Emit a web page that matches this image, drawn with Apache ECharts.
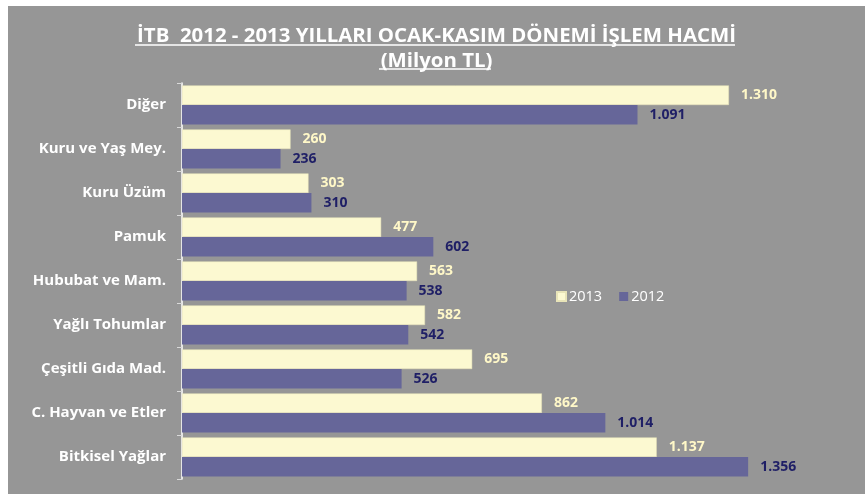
<!DOCTYPE html>
<html><head><meta charset="utf-8">
<script src="https://cdn.jsdelivr.net/npm/echarts@6/dist/echarts.min.js"></script>
<style>
html,body{margin:0;padding:0;background:#fff;width:865px;height:494px;overflow:hidden}
#c{position:absolute;left:8px;top:6px;width:857px;height:488px;background:#969696}
</style></head><body><div id="c"></div>
<script>
const categories = ['Diğer','Kuru ve Yaş Mey.','Kuru Üzüm','Pamuk','Hububat ve Mam.','Yağlı Tohumlar','Çeşitli Gıda Mad.','C. Hayvan ve Etler','Bitkisel Yağlar'];
const values2013 = [1310,260,303,477,563,582,695,862,1137];
const values2012 = [1091,236,310,602,538,542,526,1014,1356];
const seriesNames = ['2013','2012'];
const titleLine1 = 'İTB  2012 - 2013 YILLARI OCAK-KASIM DÖNEMİ İŞLEM HACMİ';
const titleLine2 = '(Milyon TL)';

const fmt = v => v.toLocaleString('de-DE');
const FONT = '"Open Sans",sans-serif';
const chart = echarts.init(document.getElementById('c'));
chart.setOption({
  backgroundColor:'#969696',
  animation:false,
  title:[
    {text:titleLine1,left:'center',top:15,textStyle:{color:'#fff',fontSize:20.4,fontWeight:'bold',fontFamily:FONT}},
    {text:titleLine2,left:'center',top:40,textStyle:{color:'#fff',fontSize:20.4,fontWeight:'bold',fontFamily:FONT}}
  ],
  graphic:[
    {type:'line',shape:{x1:127,y1:39,x2:727,y2:39},style:{stroke:'#fff',lineWidth:1.5}},
    {type:'line',shape:{x1:371,y1:63,x2:483,y2:63},style:{stroke:'#fff',lineWidth:1.5}}
  ],
  legend:{data:seriesNames,left:543,top:278,itemWidth:9,itemHeight:9,itemGap:17,icon:'rect',
    textStyle:{color:'#fff',fontSize:14.5,fontFamily:FONT,padding:[0,0,0,-2]}},
  grid:{left:174,right:15,top:77,bottom:15,containLabel:false},
  xAxis:{type:'value',min:0,max:1600,show:false},
  yAxis:{type:'category',data:categories,inverse:true,
    axisLine:{lineStyle:{color:'#fff',width:1.5}},
    axisTick:{show:true,length:5,lineStyle:{color:'#d9d9d9'}},
    axisLabel:{color:'#fff',fontSize:15,fontWeight:'bold',fontFamily:FONT,margin:16}},
  series:[
    {name:seriesNames[0],type:'bar',data:values2013,barGap:'0%',barCategoryGap:'11%',
     itemStyle:{color:'#FCF9D1',borderColor:'#E8E4B8',borderWidth:0.5},
     label:{show:true,position:'right',distance:12,color:'#FFF8C8',fontWeight:'bold',fontSize:14,fontFamily:FONT,formatter:p=>fmt(p.value)}},
    {name:seriesNames[1],type:'bar',data:values2012,barGap:'0%',barCategoryGap:'11%',
     itemStyle:{color:'#666699'},
     label:{show:true,position:'right',distance:12,color:'#1F1F66',fontWeight:'bold',fontSize:14,fontFamily:FONT,formatter:p=>fmt(p.value)}}
  ]
});
</script></body></html>
